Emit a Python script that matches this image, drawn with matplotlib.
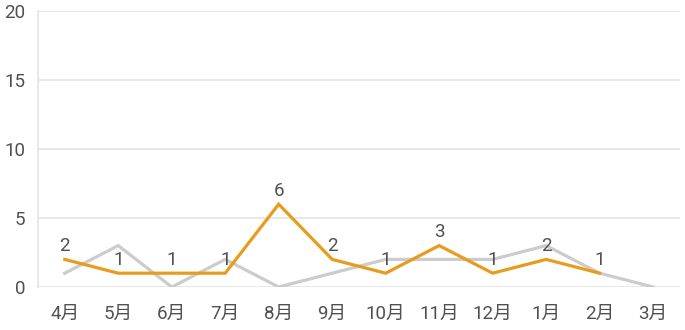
import matplotlib
matplotlib.use("Agg")
import matplotlib.pyplot as plt
import numpy as np

plt.rcParams['font.family'] = ['Roboto', 'Noto Sans CJK JP', 'DejaVu Sans']

months = ["4月", "5月", "6月", "7月", "8月", "9月", "10月", "11月", "12月", "1月", "2月", "3月"]
series_orange = [2, 1, 1, 1, 6, 2, 1, 3, 1, 2, 1, np.nan]
series_gray = [1, 3, 0, 2, 0, 1, 2, 2, 2, 3, 1, 0]
yticks = [0, 5, 10, 15, 20]

fig = plt.figure(figsize=(6.85, 3.3), dpi=100)
ax = fig.add_axes([0.0555, 0.1303, 0.937, 0.8364])

x = np.arange(len(months))
ax.plot(x, series_gray, color='#cccccc', lw=2.3, zorder=3, solid_joinstyle='miter')
ax.plot(x, series_orange, color='#e89c1c', lw=2.3, zorder=4, solid_joinstyle='miter')

for xi, v in zip(x, series_orange):
    if not np.isnan(v):
        ax.annotate(f"{int(v)}", (xi, v), xytext=(0, 3), textcoords='offset points',
                    ha='center', va='bottom', fontsize=13.5,
                    color='#505050', zorder=5)

ax.set_xlim(-0.5, len(months) - 0.5)
ax.set_ylim(0, 20)
ax.set_yticks(yticks)
ax.set_xticks(x)
ax.set_xticklabels(months)
ax.tick_params(axis='both', length=0, labelsize=13.5, colors='#505050')
ax.tick_params(axis='x', pad=13)
ax.tick_params(axis='y', pad=9)
ax.grid(axis='y', color='#e6e6e6', lw=1.3)
ax.set_axisbelow(True)
for s in ['top', 'right', 'bottom']:
    ax.spines[s].set_visible(False)
ax.spines['left'].set_color('#e6e6e6')
ax.spines['left'].set_linewidth(1.3)

fig.savefig("out.png", dpi=100)
